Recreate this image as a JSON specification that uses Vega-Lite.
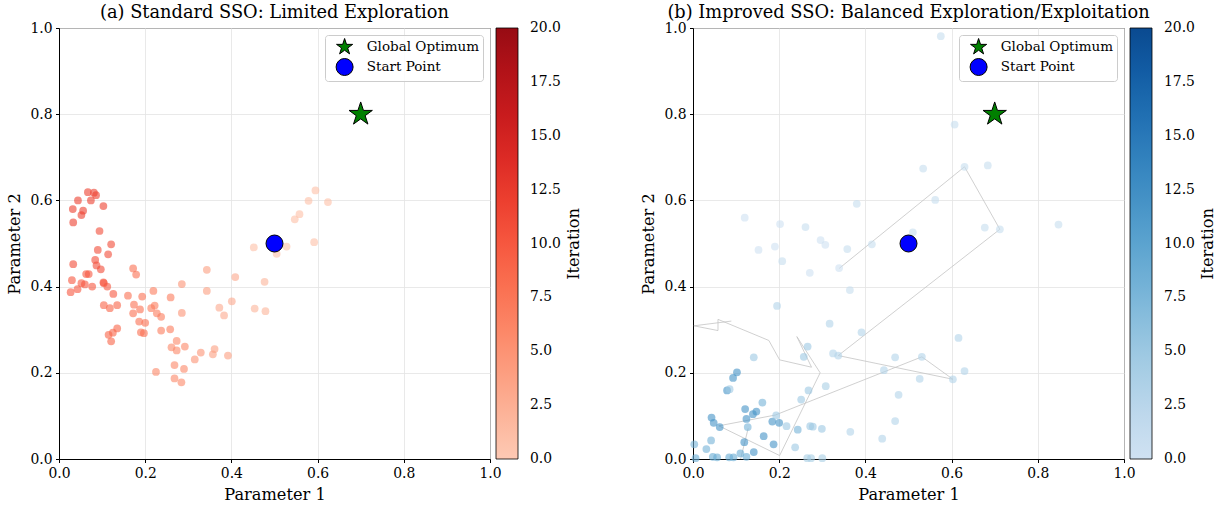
{
  "$schema": "https://vega.github.io/schema/vega-lite/v6.json",
  "padding": {"left": 6, "top": 3, "right": 5, "bottom": 2},
  "background": "white",
  "config": {
    "font": "DejaVu Serif",
    "view": {"stroke": "black", "strokeWidth": 1},
    "axis": {
      "labelFont": "DejaVu Serif", "labelFontSize": 13.9, "labelColor": "black", "labelFlush": false,
      "titleFont": "DejaVu Serif", "titleFontSize": 16.2, "titleFontWeight": "normal", "titleColor": "black",
      "tickColor": "black", "tickSize": 3.5, "domainColor": "black", "labelPadding": 3.5,
      "gridColor": "#e3e3e3", "gridWidth": 0.8, "titlePadding": 7
    },
    "legend": {
      "labelFont": "DejaVu Serif", "labelFontSize": 13.9, "labelColor": "black",
      "titleFont": "DejaVu Serif", "titleFontSize": 16.2, "titleFontWeight": "normal", "titleColor": "black"
    },
    "title": {"font": "DejaVu Serif", "fontSize": 17.8, "fontWeight": "normal", "color": "black", "offset": -1, "frame": "group"}
  },
  "datasets": {
    "a_points": [
      {"x":0.067,"y":0.619,"iteration":12},{"x":0.081,"y":0.618,"iteration":12},{"x":0.086,"y":0.612,"iteration":12},{"x":0.044,"y":0.600,"iteration":12},{"x":0.074,"y":0.600,"iteration":12},{"x":0.103,"y":0.587,"iteration":12},{"x":0.032,"y":0.580,"iteration":12},{"x":0.056,"y":0.576,"iteration":12},{"x":0.052,"y":0.566,"iteration":12},{"x":0.033,"y":0.549,"iteration":12},
      {"x":0.094,"y":0.529,"iteration":11},{"x":0.090,"y":0.485,"iteration":11},{"x":0.121,"y":0.498,"iteration":11},{"x":0.114,"y":0.475,"iteration":11},{"x":0.084,"y":0.462,"iteration":11},{"x":0.087,"y":0.449,"iteration":11},{"x":0.097,"y":0.440,"iteration":11},{"x":0.033,"y":0.452,"iteration":11},
      {"x":0.030,"y":0.415,"iteration":10},{"x":0.103,"y":0.410,"iteration":10},{"x":0.063,"y":0.429,"iteration":10},{"x":0.069,"y":0.429,"iteration":10},{"x":0.052,"y":0.408,"iteration":10},{"x":0.043,"y":0.394,"iteration":10},{"x":0.027,"y":0.387,"iteration":10},{"x":0.060,"y":0.405,"iteration":10},{"x":0.077,"y":0.400,"iteration":10},{"x":0.104,"y":0.408,"iteration":10},{"x":0.112,"y":0.400,"iteration":10},{"x":0.126,"y":0.383,"iteration":10},
      {"x":0.104,"y":0.357,"iteration":9},{"x":0.118,"y":0.350,"iteration":9},{"x":0.135,"y":0.357,"iteration":9},{"x":0.115,"y":0.288,"iteration":9},{"x":0.125,"y":0.293,"iteration":9},{"x":0.121,"y":0.273,"iteration":9},{"x":0.135,"y":0.303,"iteration":9},
      {"x":0.160,"y":0.379,"iteration":8},{"x":0.174,"y":0.358,"iteration":8},{"x":0.172,"y":0.338,"iteration":8},{"x":0.188,"y":0.347,"iteration":8},{"x":0.193,"y":0.377,"iteration":8},{"x":0.186,"y":0.319,"iteration":8},{"x":0.200,"y":0.316,"iteration":8},{"x":0.190,"y":0.294,"iteration":8},{"x":0.197,"y":0.292,"iteration":8},{"x":0.172,"y":0.442,"iteration":8},{"x":0.179,"y":0.428,"iteration":8},
      {"x":0.219,"y":0.390,"iteration":7},{"x":0.222,"y":0.356,"iteration":7},{"x":0.214,"y":0.350,"iteration":7},{"x":0.227,"y":0.338,"iteration":7},{"x":0.237,"y":0.330,"iteration":7},{"x":0.259,"y":0.375,"iteration":7},{"x":0.237,"y":0.298,"iteration":7},{"x":0.258,"y":0.301,"iteration":7},
      {"x":0.225,"y":0.202,"iteration":6},{"x":0.268,"y":0.218,"iteration":6},{"x":0.284,"y":0.178,"iteration":6},{"x":0.290,"y":0.209,"iteration":6},{"x":0.268,"y":0.187,"iteration":6},{"x":0.261,"y":0.259,"iteration":6},{"x":0.273,"y":0.252,"iteration":6},{"x":0.273,"y":0.274,"iteration":6},{"x":0.292,"y":0.261,"iteration":6},
      {"x":0.285,"y":0.406,"iteration":5},{"x":0.285,"y":0.339,"iteration":5},{"x":0.315,"y":0.231,"iteration":5},{"x":0.329,"y":0.247,"iteration":5},
      {"x":0.357,"y":0.243,"iteration":4},{"x":0.361,"y":0.255,"iteration":4},{"x":0.392,"y":0.240,"iteration":4},{"x":0.343,"y":0.439,"iteration":4},{"x":0.343,"y":0.390,"iteration":4},
      {"x":0.372,"y":0.351,"iteration":3},{"x":0.383,"y":0.333,"iteration":3},{"x":0.401,"y":0.366,"iteration":3},{"x":0.409,"y":0.422,"iteration":3},
      {"x":0.454,"y":0.349,"iteration":2},{"x":0.479,"y":0.343,"iteration":2},{"x":0.477,"y":0.411,"iteration":2},
      {"x":0.452,"y":0.491,"iteration":1},{"x":0.505,"y":0.476,"iteration":1},{"x":0.528,"y":0.493,"iteration":1},{"x":0.547,"y":0.556,"iteration":1},{"x":0.558,"y":0.568,"iteration":1},{"x":0.579,"y":0.599,"iteration":1},{"x":0.592,"y":0.503,"iteration":1},{"x":0.595,"y":0.623,"iteration":1},{"x":0.624,"y":0.596,"iteration":1}
    ],
    "b_points": [
      {"x":0.102,"y":0.201,"iteration":12},{"x":0.093,"y":0.188,"iteration":12},{"x":0.079,"y":0.159,"iteration":12},{"x":0.043,"y":0.096,"iteration":12},{"x":0.048,"y":0.084,"iteration":12},{"x":0.062,"y":0.074,"iteration":12},{"x":0.121,"y":0.116,"iteration":12},{"x":0.124,"y":0.093,"iteration":12},{"x":0.147,"y":0.110,"iteration":12},{"x":0.139,"y":0.104,"iteration":12},{"x":0.164,"y":0.053,"iteration":12},{"x":0.187,"y":0.034,"iteration":12},{"x":0.200,"y":0.084,"iteration":12},{"x":0.184,"y":0.087,"iteration":12},{"x":0.119,"y":0.039,"iteration":12},{"x":0.141,"y":0.016,"iteration":12},
      {"x":0.006,"y":0.002,"iteration":9},{"x":0.046,"y":0.005,"iteration":9},{"x":0.056,"y":0.004,"iteration":9},{"x":0.084,"y":0.004,"iteration":9},{"x":0.094,"y":0.004,"iteration":9},{"x":0.124,"y":0.005,"iteration":9},{"x":0.110,"y":0.013,"iteration":9},
      {"x":0.161,"y":0.131,"iteration":8},{"x":0.243,"y":0.068,"iteration":8},{"x":0.127,"y":0.074,"iteration":8},{"x":0.042,"y":0.043,"iteration":8},{"x":0.003,"y":0.034,"iteration":8},{"x":0.031,"y":0.023,"iteration":8},
      {"x":0.141,"y":0.236,"iteration":5},{"x":0.085,"y":0.162,"iteration":5},{"x":0.193,"y":0.101,"iteration":5},{"x":0.217,"y":0.076,"iteration":5},{"x":0.268,"y":0.159,"iteration":5},{"x":0.251,"y":0.138,"iteration":5},{"x":0.272,"y":0.076,"iteration":5},{"x":0.278,"y":0.075,"iteration":5},{"x":0.299,"y":0.070,"iteration":5},{"x":0.237,"y":0.027,"iteration":5},{"x":0.257,"y":0.237,"iteration":5},{"x":0.266,"y":0.261,"iteration":5},
      {"x":0.265,"y":0.002,"iteration":4},{"x":0.274,"y":0.002,"iteration":4},{"x":0.300,"y":0.002,"iteration":4},{"x":0.308,"y":0.169,"iteration":4},
      {"x":0.195,"y":0.355,"iteration":3},{"x":0.317,"y":0.314,"iteration":3},{"x":0.391,"y":0.294,"iteration":3},{"x":0.325,"y":0.245,"iteration":3},{"x":0.337,"y":0.240,"iteration":3},{"x":0.443,"y":0.206,"iteration":3},{"x":0.365,"y":0.063,"iteration":3},{"x":0.439,"y":0.047,"iteration":3},{"x":0.469,"y":0.236,"iteration":3},{"x":0.531,"y":0.237,"iteration":3},{"x":0.526,"y":0.186,"iteration":3},{"x":0.603,"y":0.185,"iteration":3},{"x":0.630,"y":0.204,"iteration":3},{"x":0.616,"y":0.281,"iteration":3},{"x":0.477,"y":0.149,"iteration":3},{"x":0.469,"y":0.088,"iteration":3},
      {"x":0.534,"y":0.674,"iteration":1},{"x":0.684,"y":0.681,"iteration":1},{"x":0.630,"y":0.678,"iteration":1},{"x":0.562,"y":0.601,"iteration":1},{"x":0.380,"y":0.592,"iteration":1},{"x":0.261,"y":0.538,"iteration":1},{"x":0.510,"y":0.526,"iteration":1},{"x":0.677,"y":0.537,"iteration":1},{"x":0.712,"y":0.533,"iteration":1},{"x":0.358,"y":0.487,"iteration":1},{"x":0.415,"y":0.498,"iteration":1},{"x":0.207,"y":0.459,"iteration":1},{"x":0.364,"y":0.392,"iteration":1},{"x":0.575,"y":0.981,"iteration":1},{"x":0.607,"y":0.776,"iteration":1},{"x":0.848,"y":0.544,"iteration":1},
      {"x":0.120,"y":0.560,"iteration":0},{"x":0.202,"y":0.545,"iteration":0},{"x":0.296,"y":0.508,"iteration":0},{"x":0.307,"y":0.497,"iteration":0},{"x":0.152,"y":0.485,"iteration":0},{"x":0.190,"y":0.493,"iteration":0},{"x":0.339,"y":0.443,"iteration":0},{"x":0.271,"y":0.432,"iteration":0}
    ],
    "b_path": [
      {"x":0.089,"y":0.320,"seq":1,"path":"p1"},{"x":0.002,"y":0.309,"seq":2,"path":"p1"},{"x":0.058,"y":0.298,"seq":3,"path":"p1"},{"x":0.058,"y":0.324,"seq":4,"path":"p1"},{"x":0.176,"y":0.275,"seq":5,"path":"p1"},{"x":0.201,"y":0.230,"seq":6,"path":"p1"},{"x":0.275,"y":0.213,"seq":7,"path":"p1"},{"x":0.241,"y":0.284,"seq":8,"path":"p1"},{"x":0.295,"y":0.200,"seq":9,"path":"p1"},{"x":0.201,"y":0.008,"seq":10,"path":"p1"},{"x":0.060,"y":0.077,"seq":11,"path":"p1"},{"x":0.191,"y":0.102,"seq":12,"path":"p1"},{"x":0.531,"y":0.237,"seq":13,"path":"p1"},{"x":0.603,"y":0.185,"seq":14,"path":"p1"},{"x":0.337,"y":0.240,"seq":15,"path":"p1"},{"x":0.712,"y":0.533,"seq":16,"path":"p1"},{"x":0.630,"y":0.678,"seq":17,"path":"p1"},{"x":0.339,"y":0.442,"seq":18,"path":"p1"},
      {"x":0.108,"y":-0.01,"seq":1,"path":"p2"},{"x":0.128,"y":0.071,"seq":2,"path":"p2"}
    ],
    "markers": [
      {"x":0.7,"y":0.8,"label":"Global Optimum"},
      {"x":0.5,"y":0.5,"label":"Start Point"}
    ]
  },
  "spacing": 56,
  "resolve": {"scale": {"color": "independent", "fill": "independent", "shape": "independent", "size": "independent"}},
  "hconcat": [
    {
      "title": "(a) Standard SSO: Limited Exploration",
      "width": 431, "height": 431,
      "layer": [
        {
          "data": {"name": "a_points"},
          "mark": {"type": "point", "filled": true, "fillOpacity": 0.6, "size": 60},
          "encoding": {
            "x": {"field": "x", "type": "quantitative", "scale": {"domain": [0, 1], "nice": false, "zero": false}, "axis": {"title": "Parameter 1", "values": [0,0.2,0.4,0.6,0.8,1], "format": ".1f", "grid": true}},
            "y": {"field": "y", "type": "quantitative", "scale": {"domain": [0, 1], "nice": false, "zero": false}, "axis": {"title": "Parameter 2", "values": [0,0.2,0.4,0.6,0.8,1], "format": ".1f", "grid": true}},
            "color": {"field": "iteration", "type": "quantitative", "scale": {"domain": [0, 20], "scheme": "reds"},
              "legend": {"title": "Iteration", "orient": "right", "offset": 6, "type": "gradient", "gradientLength": 431, "gradientThickness": 22, "gradientStrokeColor": "black", "gradientStrokeWidth": 0.8, "values": [0,2.5,5,7.5,10,12.5,15,17.5,20], "format": ".1f", "labelOffset": 12, "titleOrient": "right", "titleAnchor": "middle", "titlePadding": 5, "labelOverlap": false,
                "encode": {"title": {"update": {"angle": {"value": -90}, "baseline": {"value": "top"}}}, "labels": {"update": {"baseline": {"value": "middle"}}}}}}
          }
        },
        {
          "data": {"name": "markers"},
          "mark": {"type": "point", "filled": true, "opacity": 1, "stroke": "black", "strokeWidth": 1},
          "encoding": {
            "x": {"field": "x", "type": "quantitative"},
            "y": {"field": "y", "type": "quantitative"},
            "fill": {"field": "label", "type": "nominal", "scale": {"domain": ["Global Optimum", "Start Point"], "range": ["#008000", "#0000ff"]}, "legend": {"title": null, "orient": "top-right", "offset": 7, "padding": 3, "symbolOffset": 7.6, "symbolSize": 289, "fillColor": "rgba(255,255,255,0.85)", "strokeColor": "#cccccc", "cornerRadius": 3, "symbolStrokeColor": "black", "symbolStrokeWidth": 1, "labelFontSize": 13.5, "rowPadding": 0, "labelOffset": 13.2,
              "encode": {"symbols": {"size": {"condition": {"test": "datum.value === 'Global Optimum'", "value": 500}, "value": 289}}}}},
            "shape": {"field": "label", "type": "nominal", "scale": {"domain": ["Global Optimum", "Start Point"], "range": ["M0,-1L0.2245,-0.309L0.951,-0.309L0.363,0.118L0.588,0.809L0,0.382L-0.588,0.809L-0.363,0.118L-0.951,-0.309L-0.2245,-0.309Z", "circle"]}, "legend": {"title": null, "orient": "top-right"}},
            "size": {"field": "label", "type": "nominal", "scale": {"domain": ["Start Point", "Global Optimum"], "range": [289, 600]}, "legend": null}
          }
        }
      ]
    },
    {
      "title": "(b) Improved SSO: Balanced Exploration/Exploitation",
      "width": 431, "height": 431,
      "layer": [
        {
          "data": {"name": "b_path"},
          "mark": {"type": "line", "color": "#c4c4c4", "strokeWidth": 0.8, "clip": true},
          "encoding": {
            "x": {"field": "x", "type": "quantitative", "scale": {"domain": [0, 1], "nice": false, "zero": false}, "axis": {"title": "Parameter 1", "values": [0,0.2,0.4,0.6,0.8,1], "format": ".1f", "grid": true}},
            "y": {"field": "y", "type": "quantitative", "scale": {"domain": [0, 1], "nice": false, "zero": false}, "axis": {"title": "Parameter 2", "values": [0,0.2,0.4,0.6,0.8,1], "format": ".1f", "grid": true}},
            "detail": {"field": "path", "type": "nominal"},
            "order": {"field": "seq", "type": "quantitative"}
          }
        },
        {
          "data": {"name": "b_points"},
          "mark": {"type": "point", "filled": true, "fillOpacity": 0.6, "size": 60},
          "encoding": {
            "x": {"field": "x", "type": "quantitative"},
            "y": {"field": "y", "type": "quantitative"},
            "color": {"field": "iteration", "type": "quantitative", "scale": {"domain": [0, 20], "scheme": "blues"},
              "legend": {"title": "Iteration", "orient": "right", "offset": 6, "type": "gradient", "gradientLength": 431, "gradientThickness": 22, "gradientStrokeColor": "black", "gradientStrokeWidth": 0.8, "values": [0,2.5,5,7.5,10,12.5,15,17.5,20], "format": ".1f", "labelOffset": 12, "titleOrient": "right", "titleAnchor": "middle", "titlePadding": 5, "labelOverlap": false,
                "encode": {"title": {"update": {"angle": {"value": -90}, "baseline": {"value": "top"}}}, "labels": {"update": {"baseline": {"value": "middle"}}}}}}
          }
        },
        {
          "data": {"name": "markers"},
          "mark": {"type": "point", "filled": true, "opacity": 1, "stroke": "black", "strokeWidth": 1},
          "encoding": {
            "x": {"field": "x", "type": "quantitative"},
            "y": {"field": "y", "type": "quantitative"},
            "fill": {"field": "label", "type": "nominal", "scale": {"domain": ["Global Optimum", "Start Point"], "range": ["#008000", "#0000ff"]}, "legend": {"title": null, "orient": "top-right", "offset": 7, "padding": 3, "symbolOffset": 7.6, "symbolSize": 289, "fillColor": "rgba(255,255,255,0.85)", "strokeColor": "#cccccc", "cornerRadius": 3, "symbolStrokeColor": "black", "symbolStrokeWidth": 1, "labelFontSize": 13.5, "rowPadding": 0, "labelOffset": 13.2,
              "encode": {"symbols": {"size": {"condition": {"test": "datum.value === 'Global Optimum'", "value": 500}, "value": 289}}}}},
            "shape": {"field": "label", "type": "nominal", "scale": {"domain": ["Global Optimum", "Start Point"], "range": ["M0,-1L0.2245,-0.309L0.951,-0.309L0.363,0.118L0.588,0.809L0,0.382L-0.588,0.809L-0.363,0.118L-0.951,-0.309L-0.2245,-0.309Z", "circle"]}, "legend": {"title": null, "orient": "top-right"}},
            "size": {"field": "label", "type": "nominal", "scale": {"domain": ["Start Point", "Global Optimum"], "range": [289, 600]}, "legend": null}
          }
        }
      ]
    }
  ]
}
